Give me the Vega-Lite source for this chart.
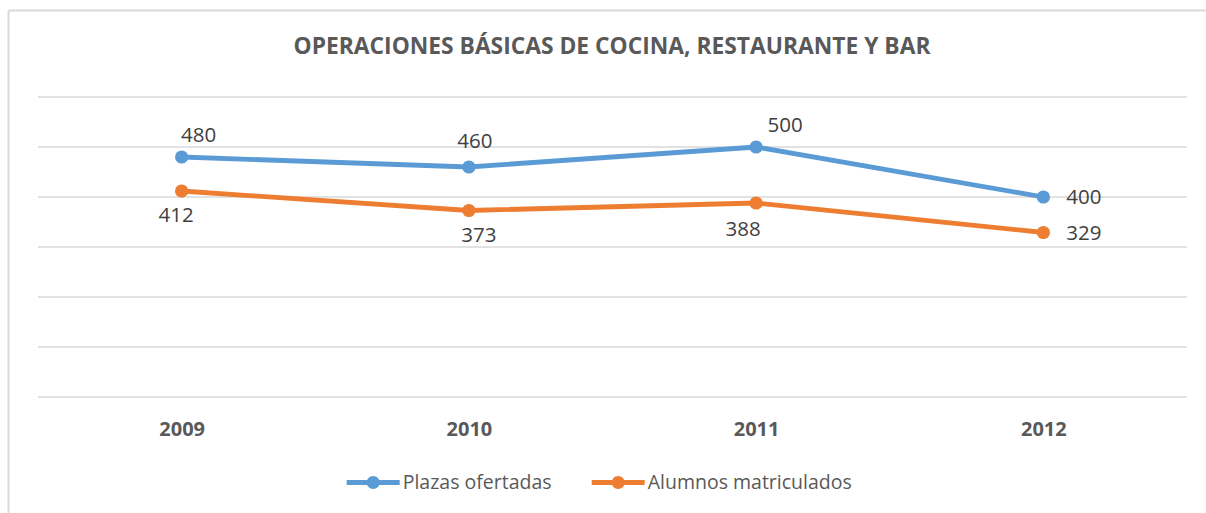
{
  "$schema": "https://vega.github.io/schema/vega-lite/v6.json",
  "width": 1198,
  "height": 503,
  "autosize": {"type": "none"},
  "padding": {"left": 8, "top": 10, "right": 0, "bottom": 0},
  "background": "white",
  "config": {"view": {"stroke": null}, "font": "Open Sans"},
  "title": {
    "text": "OPERACIONES BÁSICAS DE COCINA, RESTAURANTE Y BAR",
    "font": "Open Sans",
    "fontSize": 22.8,
    "fontWeight": "bold",
    "color": "#595959",
    "anchor": "middle",
    "frame": "group",
    "offset": -60,
    "baseline": "middle",
    "dx": 5
  },
  "datasets": {
    "grid": [{"g": 0}, {"g": 100}, {"g": 200}, {"g": 300}, {"g": 400}, {"g": 500}, {"g": 600}],
    "series": [
      {"year": 2009, "serie": "Plazas ofertadas", "valor": 480},
      {"year": 2010, "serie": "Plazas ofertadas", "valor": 460},
      {"year": 2011, "serie": "Plazas ofertadas", "valor": 500},
      {"year": 2012, "serie": "Plazas ofertadas", "valor": 400},
      {"year": 2009, "serie": "Alumnos matriculados", "valor": 412},
      {"year": 2010, "serie": "Alumnos matriculados", "valor": 373},
      {"year": 2011, "serie": "Alumnos matriculados", "valor": 388},
      {"year": 2012, "serie": "Alumnos matriculados", "valor": 329}
    ]
  },
  "layer": [
    {
      "data": {"name": "grid"},
      "mark": {"type": "rule", "color": "#d9d9d9", "strokeWidth": 1.5},
      "encoding": {
        "y": {"field": "g", "type": "quantitative", "scale": {"domain": [-232, 774], "nice": false, "zero": false},
              "axis": {"orient": "left", "domain": true, "domainColor": "#d9d9d9", "domainWidth": 2, "ticks": false, "labels": false, "grid": false, "title": null}},
        "x": {"datum": 2008.5, "type": "quantitative", "scale": {"domain": [2008.3955, 2012.5662], "nice": false, "zero": false},
              "axis": {"orient": "top", "domain": true, "domainColor": "#d9d9d9", "domainWidth": 2, "ticks": false, "labels": false, "grid": false, "title": null}},
        "x2": {"datum": 2012.5}
      }
    },
    {
      "data": {"name": "series"},
      "mark": {"type": "line", "strokeWidth": 4.8, "strokeCap": "round", "strokeJoin": "round"},
      "encoding": {
        "x": {"field": "year", "type": "quantitative", "scale": {"domain": [2008.3955, 2012.5662], "nice": false, "zero": false},
              "axis": {"orient": "bottom", "values": [2009, 2010, 2011, 2012], "format": "d", "domain": false, "ticks": false, "tickSize": 0, "grid": false, "labelPadding": 0, "labelBaseline": "middle", "offset": -83.5, "labelFont": "Open Sans", "labelFontSize": 20, "labelFontWeight": "bold", "labelColor": "#595959", "labelFlush": false, "title": null}},
        "y": {"field": "valor", "type": "quantitative", "scale": {"domain": [-232, 774], "nice": false, "zero": false}, "axis": null},
        "color": {
          "field": "serie", "type": "nominal",
          "scale": {"domain": ["Plazas ofertadas", "Alumnos matriculados"], "range": ["#5b9bd5", "#ed7d31"]},
          "legend": {
            "orient": "none", "legendX": 338.7, "legendY": 446, "direction": "horizontal", "title": null,
            "symbolType": "M-1,-0.094H1V0.094H-1Z M0.245,0A0.245,0.245,0,1,1,-0.245,0A0.245,0.245,0,1,1,0.245,0Z",
            "symbolSize": 2809, "symbolStrokeWidth": 0,
            "labelFont": "Open Sans", "labelFontSize": 19.5, "labelColor": "#595959", "labelOffset": 3, "labelLimit": 400,
            "columnPadding": 40, "padding": 0,
            "encode": {"symbols": {"update": {"fill": {"scale": "color", "field": "value"}, "stroke": {"value": "transparent"}, "opacity": {"value": 1}}}}
          }
        }
      }
    },
    {
      "data": {"name": "series"},
      "mark": {"type": "point", "filled": true, "size": 175, "opacity": 1},
      "encoding": {
        "x": {"field": "year", "type": "quantitative", "axis": null},
        "y": {"field": "valor", "type": "quantitative", "axis": null},
        "color": {"field": "serie", "type": "nominal"}
      }
    },
    {
      "data": {"name": "series"},
      "transform": [{"filter": "datum.serie === 'Plazas ofertadas' && datum.year === 2009"}],
      "mark": {"type": "text", "fontSize": 20.5, "color": "#404040", "dx": 17, "dy": -21, "baseline": "middle"},
      "encoding": {"x": {"field": "year", "type": "quantitative", "axis": null}, "y": {"field": "valor", "type": "quantitative", "axis": null}, "text": {"field": "valor"}}
    },
    {
      "data": {"name": "series"},
      "transform": [{"filter": "datum.serie === 'Plazas ofertadas' && datum.year === 2010"}],
      "mark": {"type": "text", "fontSize": 20.5, "color": "#404040", "dx": 6, "dy": -25, "baseline": "middle"},
      "encoding": {"x": {"field": "year", "type": "quantitative", "axis": null}, "y": {"field": "valor", "type": "quantitative", "axis": null}, "text": {"field": "valor"}}
    },
    {
      "data": {"name": "series"},
      "transform": [{"filter": "datum.serie === 'Plazas ofertadas' && datum.year === 2011"}],
      "mark": {"type": "text", "fontSize": 20.5, "color": "#404040", "dx": 29, "dy": -21, "baseline": "middle"},
      "encoding": {"x": {"field": "year", "type": "quantitative", "axis": null}, "y": {"field": "valor", "type": "quantitative", "axis": null}, "text": {"field": "valor"}}
    },
    {
      "data": {"name": "series"},
      "transform": [{"filter": "datum.year === 2012"}],
      "mark": {"type": "text", "fontSize": 20.5, "color": "#404040", "dx": 23, "dy": 1, "align": "left", "baseline": "middle"},
      "encoding": {"x": {"field": "year", "type": "quantitative", "axis": null}, "y": {"field": "valor", "type": "quantitative", "axis": null}, "text": {"field": "valor"}}
    },
    {
      "data": {"name": "series"},
      "transform": [{"filter": "datum.serie === 'Alumnos matriculados' && datum.year === 2009"}],
      "mark": {"type": "text", "fontSize": 20.5, "color": "#404040", "dx": -5.5, "dy": 25, "baseline": "middle"},
      "encoding": {"x": {"field": "year", "type": "quantitative", "axis": null}, "y": {"field": "valor", "type": "quantitative", "axis": null}, "text": {"field": "valor"}}
    },
    {
      "data": {"name": "series"},
      "transform": [{"filter": "datum.serie === 'Alumnos matriculados' && datum.year === 2010"}],
      "mark": {"type": "text", "fontSize": 20.5, "color": "#404040", "dx": 10, "dy": 25, "baseline": "middle"},
      "encoding": {"x": {"field": "year", "type": "quantitative", "axis": null}, "y": {"field": "valor", "type": "quantitative", "axis": null}, "text": {"field": "valor"}}
    },
    {
      "data": {"name": "series"},
      "transform": [{"filter": "datum.serie === 'Alumnos matriculados' && datum.year === 2011"}],
      "mark": {"type": "text", "fontSize": 20.5, "color": "#404040", "dx": -13, "dy": 27, "baseline": "middle"},
      "encoding": {"x": {"field": "year", "type": "quantitative", "axis": null}, "y": {"field": "valor", "type": "quantitative", "axis": null}, "text": {"field": "valor"}}
    }
  ],
  "resolve": {"axis": {"x": "independent", "y": "independent"}}
}
